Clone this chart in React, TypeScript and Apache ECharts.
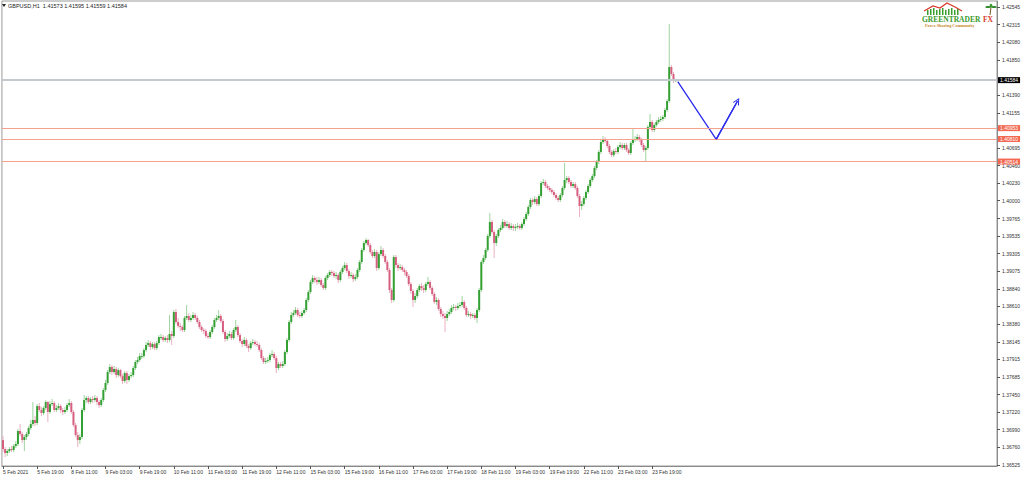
import React, { useEffect, useRef } from 'react';
import * as echarts from 'echarts';

// ---------- data ----------
const symbolName = 'GBPUSD,H1';
const lastQuote = [1.41573, 1.41595, 1.41559, 1.41584]; // O H L C of the last bar
const firstOpen = 1.36853;

const closes = [
  1.36735,1.36683,1.36709,1.36735,1.36722,1.36774,1.36800,1.36972,1.36932,1.36853,
  1.36893,1.36932,1.37011,1.37063,1.37116,1.37077,1.37300,1.37248,1.37209,1.37274,
  1.37353,1.37222,1.37326,1.37340,1.37248,1.37274,1.37300,1.37248,1.37222,1.37248,
  1.37313,1.37340,1.37222,1.37050,1.36919,1.36853,1.36893,1.37248,1.37379,1.37406,
  1.37353,1.37393,1.37379,1.37406,1.37353,1.37313,1.37379,1.37511,1.37603,1.37747,
  1.37813,1.37747,1.37787,1.37707,1.37773,1.37694,1.37629,1.37734,1.37642,1.37694,
  1.37707,1.37800,1.37879,1.37905,1.37957,1.37957,1.38036,1.38102,1.38128,1.38076,
  1.38115,1.38062,1.38128,1.38207,1.38207,1.38168,1.38194,1.38168,1.38247,1.38220,
  1.38536,1.38405,1.38352,1.38339,1.38299,1.38457,1.38484,1.38431,1.38457,1.38497,
  1.38457,1.38405,1.38339,1.38299,1.38286,1.38220,1.38207,1.38273,1.38339,1.38431,
  1.38457,1.38484,1.38418,1.38273,1.38181,1.38220,1.38247,1.38194,1.38299,1.38339,
  1.38233,1.38155,1.38115,1.38168,1.38089,1.38062,1.38128,1.38141,1.38115,1.38102,
  1.38036,1.37931,1.37879,1.37892,1.37905,1.37970,1.37984,1.37931,1.37800,1.37852,
  1.37826,1.37852,1.38010,1.38168,1.38405,1.38497,1.38523,1.38562,1.38497,1.38484,
  1.38523,1.38562,1.38694,1.38799,1.38930,1.38983,1.38956,1.38930,1.38956,1.38891,
  1.38851,1.38983,1.39022,1.39062,1.39048,1.39009,1.39022,1.38956,1.39062,1.39114,
  1.39153,1.39075,1.39009,1.39022,1.38969,1.38996,1.39088,1.39193,1.39351,1.39443,
  1.39482,1.39416,1.39325,1.39272,1.39325,1.39114,1.39298,1.39351,1.39272,1.39193,
  1.39088,1.38825,1.38694,1.39259,1.39153,1.39114,1.39127,1.39088,1.39062,1.39009,
  1.38904,1.38812,1.38694,1.38746,1.38825,1.38877,1.38851,1.38825,1.38904,1.38930,
  1.38851,1.38773,1.38668,1.38694,1.38576,1.38510,1.38484,1.38457,1.38510,1.38536,
  1.38589,1.38602,1.38589,1.38615,1.38628,1.38668,1.38589,1.38497,1.38510,1.38484,
  1.38497,1.38457,1.38562,1.38825,1.39193,1.39246,1.39351,1.39535,1.39719,1.39587,
  1.39443,1.39535,1.39614,1.39640,1.39719,1.39666,1.39692,1.39640,1.39666,1.39640,
  1.39653,1.39666,1.39640,1.39692,1.39758,1.39824,1.39916,1.40008,1.39982,1.40021,
  1.39955,1.40061,1.40232,1.40245,1.40192,1.40166,1.40140,1.40113,1.40074,1.40034,
  1.40008,1.40074,1.40166,1.40271,1.40297,1.40245,1.40192,1.40218,1.40166,1.40061,
  1.39929,1.39955,1.40034,1.40113,1.40192,1.40271,1.40323,1.40429,1.40508,1.40639,
  1.40771,1.40810,1.40784,1.40718,1.40639,1.40599,1.40652,1.40639,1.40705,1.40731,
  1.40692,1.40731,1.40665,1.40626,1.40758,1.40797,1.40810,1.40836,1.40797,1.40731,
  1.40665,1.40692,1.40968,1.41034,1.40928,1.40994,1.41034,1.41060,1.41073,1.41099,
  1.41191,1.41310,1.41756,1.41664,1.41573,1.41584,
];

const highs = [
  1.36906,1.36761,1.36735,1.36761,1.36774,1.36800,1.36840,1.36998,1.37063,1.36959,
  1.36919,1.36959,1.37037,1.37116,1.37353,1.37169,1.37326,1.37340,1.37287,1.37300,
  1.37379,1.37366,1.37366,1.37393,1.37366,1.37313,1.37340,1.37326,1.37274,1.37287,
  1.37340,1.37393,1.37366,1.37248,1.37077,1.36959,1.36932,1.37274,1.37445,1.37432,
  1.37432,1.37419,1.37432,1.37445,1.37432,1.37379,1.37406,1.37537,1.37642,1.37773,
  1.37852,1.37839,1.37826,1.37813,1.37800,1.37787,1.37720,1.37760,1.37760,1.37720,
  1.37747,1.37826,1.37905,1.37944,1.37997,1.37997,1.38062,1.38141,1.38168,1.38155,
  1.38141,1.38141,1.38155,1.38233,1.38247,1.38233,1.38220,1.38233,1.38497,1.38286,
  1.38562,1.38576,1.38457,1.38392,1.38365,1.38484,1.38628,1.38523,1.38497,1.38536,
  1.38523,1.38484,1.38431,1.38365,1.38326,1.38313,1.38260,1.38299,1.38365,1.38457,
  1.38497,1.38562,1.38510,1.38444,1.38299,1.38260,1.38286,1.38273,1.38326,1.38431,
  1.38365,1.38260,1.38181,1.38207,1.38194,1.38115,1.38155,1.38181,1.38168,1.38155,
  1.38128,1.38062,1.37957,1.37931,1.37944,1.37997,1.38036,1.38010,1.37957,1.37879,
  1.37879,1.37892,1.38036,1.38194,1.38431,1.38536,1.38562,1.38602,1.38589,1.38536,
  1.38549,1.38589,1.38720,1.38825,1.38956,1.39022,1.39009,1.38996,1.38996,1.38983,
  1.38917,1.39009,1.39048,1.39088,1.39088,1.39075,1.39062,1.39048,1.39088,1.39141,
  1.39193,1.39180,1.39101,1.39062,1.39048,1.39035,1.39114,1.39219,1.39377,1.39469,
  1.39508,1.39495,1.39443,1.39351,1.39364,1.39351,1.39325,1.39403,1.39377,1.39298,
  1.39219,1.39114,1.38851,1.39285,1.39285,1.39180,1.39166,1.39153,1.39114,1.39088,
  1.39035,1.38930,1.38838,1.38786,1.38851,1.38904,1.38917,1.38891,1.38930,1.38996,
  1.38956,1.38877,1.38799,1.38733,1.38720,1.38602,1.38549,1.38523,1.38549,1.38576,
  1.38628,1.38641,1.38628,1.38654,1.38668,1.38746,1.38694,1.38615,1.38549,1.38536,
  1.38523,1.38523,1.38589,1.38851,1.39219,1.39285,1.39377,1.39561,1.39838,1.39745,
  1.39614,1.39561,1.39640,1.39679,1.39758,1.39745,1.39732,1.39719,1.39706,1.39692,
  1.39692,1.39706,1.39692,1.39719,1.39785,1.39851,1.39942,1.40034,1.40034,1.40061,
  1.40047,1.40087,1.40258,1.40284,1.40271,1.40218,1.40192,1.40166,1.40140,1.40100,
  1.40061,1.40100,1.40192,1.40495,1.40323,1.40323,1.40271,1.40245,1.40245,1.40192,
  1.40087,1.39995,1.40061,1.40140,1.40218,1.40297,1.40350,1.40455,1.40534,1.40665,
  1.40797,1.40850,1.40836,1.40810,1.40744,1.40665,1.40678,1.40692,1.40731,1.40771,
  1.40758,1.40758,1.40758,1.40692,1.40784,1.40955,1.40850,1.40876,1.40863,1.40823,
  1.40758,1.40718,1.40994,1.41139,1.41060,1.41020,1.41060,1.41099,1.41112,1.41126,
  1.41217,1.41336,1.42322,1.41783,1.41691,1.41595,
];

const lows = [
  1.36696,1.36630,1.36643,1.36683,1.36696,1.36696,1.36748,1.36774,1.36906,1.36814,
  1.36709,1.36853,1.36906,1.36985,1.37037,1.37037,1.37050,1.37222,1.37169,1.37182,
  1.37248,1.37090,1.37195,1.37300,1.37222,1.37222,1.37248,1.37209,1.37182,1.37195,
  1.37222,1.37287,1.37195,1.37024,1.36893,1.36761,1.36800,1.36866,1.37222,1.37340,
  1.37326,1.37326,1.37340,1.37353,1.37313,1.37274,1.37287,1.37353,1.37485,1.37576,
  1.37720,1.37707,1.37720,1.37668,1.37681,1.37668,1.37589,1.37603,1.37589,1.37616,
  1.37668,1.37681,1.37773,1.37852,1.37879,1.37918,1.37931,1.38010,1.38076,1.38036,
  1.38049,1.38036,1.38036,1.38102,1.38168,1.38141,1.38141,1.38128,1.38141,1.38102,
  1.38194,1.38378,1.38326,1.38286,1.38273,1.38273,1.38431,1.38405,1.38405,1.38431,
  1.38431,1.38378,1.38313,1.38273,1.38247,1.38194,1.38181,1.38181,1.38247,1.38313,
  1.38405,1.38431,1.38392,1.38247,1.38141,1.38155,1.38194,1.38168,1.38168,1.38273,
  1.38207,1.38128,1.38076,1.38089,1.38062,1.38010,1.38036,1.38102,1.38089,1.38076,
  1.38010,1.37905,1.37852,1.37852,1.37866,1.37879,1.37944,1.37905,1.37734,1.37773,
  1.37800,1.37800,1.37826,1.37984,1.38141,1.38378,1.38470,1.38497,1.38470,1.38457,
  1.38457,1.38497,1.38536,1.38668,1.38773,1.38904,1.38917,1.38891,1.38904,1.38864,
  1.38825,1.38825,1.38956,1.38996,1.39009,1.38983,1.38969,1.38917,1.38930,1.39035,
  1.39088,1.39048,1.38969,1.38983,1.38930,1.38943,1.38969,1.39062,1.39166,1.39325,
  1.39416,1.39390,1.39298,1.39246,1.39246,1.39075,1.39088,1.39272,1.39246,1.39166,
  1.39062,1.38786,1.38654,1.38668,1.39114,1.39075,1.39088,1.39062,1.39022,1.38983,
  1.38877,1.38773,1.38602,1.38654,1.38720,1.38799,1.38812,1.38786,1.38799,1.38877,
  1.38825,1.38746,1.38641,1.38628,1.38549,1.38470,1.38444,1.38273,1.38418,1.38484,
  1.38510,1.38562,1.38549,1.38562,1.38589,1.38602,1.38562,1.38470,1.38470,1.38444,
  1.38457,1.38431,1.38392,1.38536,1.38799,1.39166,1.39219,1.39325,1.39508,1.39561,
  1.39246,1.39403,1.39508,1.39587,1.39614,1.39640,1.39640,1.39614,1.39614,1.39601,
  1.39601,1.39627,1.39614,1.39614,1.39666,1.39732,1.39798,1.39890,1.39942,1.39955,
  1.39929,1.39929,1.40034,1.40205,1.40166,1.40140,1.40113,1.40087,1.40047,1.40008,
  1.39982,1.39982,1.40047,1.40140,1.40232,1.40218,1.40166,1.40166,1.40140,1.40034,
  1.39785,1.39877,1.39929,1.40008,1.40087,1.40166,1.40245,1.40297,1.40402,1.40481,
  1.40612,1.40744,1.40758,1.40692,1.40612,1.40573,1.40573,1.40612,1.40612,1.40678,
  1.40665,1.40665,1.40639,1.40599,1.40599,1.40731,1.40771,1.40784,1.40771,1.40705,
  1.40639,1.40508,1.40665,1.40941,1.40902,1.40902,1.40968,1.41007,1.41034,1.41047,
  1.41073,1.41165,1.41283,1.41638,1.41546,1.41559,
];

const xTickLabels = [
  '5 Feb 2021', '5 Feb 19:00', '8 Feb 11:00', '9 Feb 03:00', '9 Feb 19:00',
  '10 Feb 11:00', '11 Feb 03:00', '11 Feb 19:00', '12 Feb 11:00', '15 Feb 03:00',
  '15 Feb 19:00', '16 Feb 11:00', '17 Feb 03:00', '17 Feb 19:00', '18 Feb 11:00',
  '19 Feb 03:00', '19 Feb 19:00', '22 Feb 11:00', '23 Feb 03:00', '23 Feb 19:00',
];
const barsPerLabel = 16;
const totalSlots = 466; // bars + empty space to the right of the last bar

const yTickValues = [
  1.42545, 1.42315, 1.42080, 1.41850, 1.41390, 1.41155, 1.40695, 1.40460, 1.40230,
  1.40000, 1.39765, 1.39535, 1.39305, 1.39075, 1.38840, 1.38610, 1.38380, 1.38145,
  1.37915, 1.37685, 1.37450, 1.37220, 1.36990, 1.36760, 1.36525,
];
const yMin = 1.36512;
const yMax = 1.42624;

const currentPrice = 1.41584;
const levelLines = [1.40953, 1.40810, 1.40514];
const arrowPath = [
  [316, 1.41563],
  [334, 1.40805],
  [344, 1.41310],
];

// ---------- styles ----------
const bodyUp = '#34a034';
const bodyDown = '#d65f80';
const wickUp = '#9fd49f';
const wickDown = '#eab0c0';
const labelFont = 'Liberation Sans, Arial, sans-serif';

export default function App() {
  const ref = useRef<HTMLDivElement>(null);

  useEffect(() => {
    if (!ref.current) return;
    const chart = echarts.init(ref.current, null, { renderer: 'svg' });

    const opens = closes.map((_, i) => (i === 0 ? firstOpen : closes[i - 1]));
    const categories = Array.from({ length: totalSlots }, (_, i) => String(i));
    const candles = closes.map((c, i) => [i, opens[i], c, lows[i], highs[i]]);
    const showLabel = (i: number) =>
      i % barsPerLabel === 0 && i / barsPerLabel < xTickLabels.length;

    const lvlLabel = (v: number, bg: string) => ({
      show: true,
      position: 'end',
      formatter: v.toFixed(5),
      color: '#fff',
      backgroundColor: bg,
      padding: [1, 2, 0, 2],
      fontSize: 5,
      fontFamily: labelFont,
      distance: 1,
    });

    const header = `${symbolName}  ${lastQuote.map((v) => v.toFixed(5)).join(' ')}`;

    const levelSeries = (v: number, color: string, width: number, bg: string, z: number) => ({
      type: 'line',
      data: [[0, v]],
      showSymbol: false,
      symbol: 'none',
      silent: true,
      z,
      lineStyle: { opacity: 0 },
      markLine: {
        silent: true,
        animation: false,
        precision: 5,
        symbol: ['none', 'none'],
        data: [{ yAxis: v }],
        lineStyle: { color, width, type: 'solid' },
        label: lvlLabel(v, bg),
      },
    });

    const option: any = {
      animation: false,
      backgroundColor: '#ffffff',
      grid: {
        left: 1,
        right: 27,
        top: 1,
        bottom: 13,
        show: true,
        borderColor: '#9a9a9a',
        borderWidth: 1,
        backgroundColor: 'transparent',
      },
      xAxis: {
        type: 'category',
        data: categories,
        boundaryGap: true,
        axisLine: { show: true, lineStyle: { color: '#8a8a8a', width: 1 } },
        axisTick: {
          show: true,
          interval: (i: number) => showLabel(i),
          alignWithLabel: true,
          length: 3,
          lineStyle: { color: '#555' },
        },
        axisLabel: {
          interval: (i: number) => showLabel(i),
          formatter: (_v: string, i: number) => xTickLabels[Math.floor(i / barsPerLabel)] ?? '',
          align: 'left',
          fontSize: 5,
          fontFamily: labelFont,
          color: '#333',
          margin: 3,
        },
        splitLine: { show: false },
      },
      yAxis: {
        type: 'value',
        position: 'right',
        min: yMin,
        max: yMax,
        scale: true,
        axisLine: { show: true, lineStyle: { color: '#8a8a8a', width: 1 } },
        axisTick: {
          show: true,
          customValues: yTickValues,
          length: 3,
          lineStyle: { color: '#555' },
        },
        axisLabel: {
          customValues: yTickValues,
          formatter: (v: number) => v.toFixed(5),
          fontSize: 5,
          fontFamily: labelFont,
          color: '#333',
          margin: 5,
        },
        splitLine: { show: false },
      },
      series: [
        levelSeries(currentPrice, '#c4c9ce', 2, '#000000', 1),
        ...levelLines.map((v) => levelSeries(v, '#f6a08e', 1, '#f26a52', 1)),
        {
          type: 'custom',
          name: symbolName,
          data: candles,
          encode: { x: 0, y: [1, 2, 3, 4] },
          clip: true,
          z: 3,
          renderItem: (_params: any, api: any) => {
            const i = api.value(0);
            const o = api.value(1);
            const c = api.value(2);
            const l = api.value(3);
            const h = api.value(4);
            const pO = api.coord([i, o]);
            const pC = api.coord([i, c]);
            const pL = api.coord([i, l]);
            const pH = api.coord([i, h]);
            const bull = c >= o;
            const x = pO[0];
            const top = Math.min(pO[1], pC[1]);
            const hgt = Math.max(1, Math.abs(pO[1] - pC[1]));
            return {
              type: 'group',
              children: [
                {
                  type: 'line',
                  shape: { x1: x, y1: pH[1], x2: x, y2: pL[1] },
                  style: { stroke: bull ? wickUp : wickDown, lineWidth: 1 },
                },
                {
                  type: 'rect',
                  shape: { x: x - 1, y: top, width: 2, height: hgt },
                  style: { fill: bull ? bodyUp : bodyDown },
                },
              ],
            };
          },
        },
        {
          type: 'line',
          name: 'arrow',
          data: arrowPath,
          showSymbol: false,
          symbol: 'none',
          silent: true,
          z: 4,
          lineStyle: { color: '#2c2cec', width: 1.3 },
          markLine: {
            silent: true,
            animation: false,
            precision: 5,
            symbol: ['none', 'path://M5,0 L10,10 L8.4,10 L5,3.2 L1.6,10 L0,10 Z'],
            symbolSize: [7, 7],
            lineStyle: { color: '#2c2cec', width: 1.3, type: 'solid' },
            label: { show: false },
            data: [[{ coord: arrowPath[1] }, { coord: arrowPath[2] }]],
          },
        },
      ],
      graphic: [
        {
          type: 'polygon',
          shape: { points: [[2, 4], [6, 4], [4, 7]] },
          style: { fill: '#222' },
        },
        {
          type: 'text',
          x: 8,
          y: 3,
          style: { text: header, fontSize: 5.5, fontFamily: labelFont, fill: '#222' },
        },
        // logo
        {
          type: 'group',
          x: 0,
          y: 0,
          children: [
            {
              type: 'polyline',
              shape: { points: [[924, 11], [933, 6], [940, 8], [947, 3], [955, 7], [962, 11]] },
              style: { stroke: '#d83a2e', lineWidth: 1.3, fill: 'none' },
            },
            ...[927, 930, 933, 936, 939, 942, 945, 948, 951, 954, 957].map((bx, k) => ({
              type: 'rect',
              shape: { x: bx, y: 10 - (k % 3), width: 1.5, height: 5 + (k % 3) },
              style: { fill: '#3a9e2e' },
            })),
            {
              type: 'text',
              x: 922,
              y: 15,
              style: {
                text: 'GREENTRADER',
                fontSize: 7.5,
                fontWeight: 'bold',
                fontFamily: 'Liberation Serif, serif',
                fill: '#3a9a2a',
              },
            },
            {
              type: 'text',
              x: 983,
              y: 15,
              style: {
                text: 'FX',
                fontSize: 7.5,
                fontWeight: 'bold',
                fontFamily: 'Liberation Serif, serif',
                fill: '#d83a2e',
              },
            },
            {
              type: 'text',
              x: 925,
              y: 23,
              style: {
                text: 'Forex Sharing Community',
                fontSize: 4.3,
                fontWeight: 'bold',
                fontFamily: 'Liberation Serif, serif',
                fill: '#c88a2a',
              },
            },
            {
              type: 'line',
              shape: { x1: 990, y1: 15, x2: 991, y2: 7 },
              style: { stroke: '#7a5a2a', lineWidth: 1 },
            },
            { type: 'ellipse', shape: { cx: 988, cy: 7, rx: 2.8, ry: 1.1 }, style: { fill: '#2e8a2e' } },
            { type: 'ellipse', shape: { cx: 994, cy: 7, rx: 2.8, ry: 1.1 }, style: { fill: '#2e8a2e' } },
            { type: 'ellipse', shape: { cx: 991, cy: 5.5, rx: 1.4, ry: 1.8 }, style: { fill: '#3a9e2e' } },
          ],
        },
      ],
    };

    chart.setOption(option);
    return () => chart.dispose();
  }, []);

  return (
    <div
      ref={ref}
      style={{ position: 'fixed', left: 0, top: 0, width: 1024, height: 479, background: '#fff' }}
    />
  );
}
